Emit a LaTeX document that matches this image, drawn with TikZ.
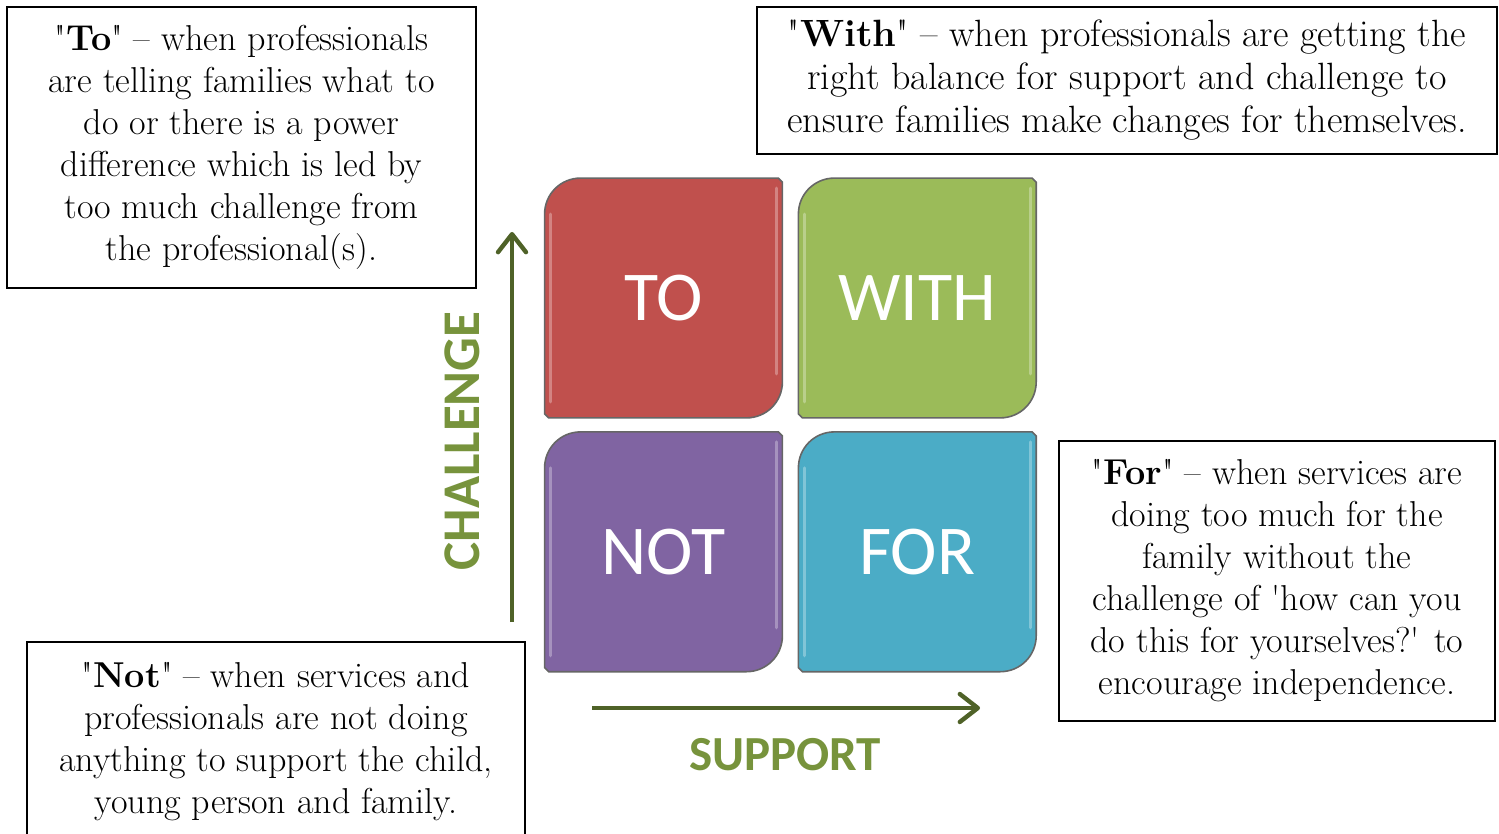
\documentclass[tikz,border=0pt]{standalone}
\usepackage{fontspec}
\setsansfont{Carlito}
\usetikzlibrary{positioning}
\usetikzlibrary{calc}
\usetikzlibrary{arrows.meta}
\pgfdeclarelayer{background}
\pgfsetlayers{background,main}
\definecolor{tored}{HTML}{C0504D}
\definecolor{withgreen}{HTML}{9BBB59}
\definecolor{notpurple}{HTML}{8064A2}
\definecolor{foraqua}{HTML}{4BACC6}
\definecolor{axisgreen}{HTML}{4F6228}
\definecolor{labelgreen}{HTML}{77933C}

\begin{document}
\begin{tikzpicture}[x=0.5pt,y=-0.5pt]
			\tikzset{textbox/.style = {shape=rectangle, draw, line width=1pt, inner sep=0pt, align=center, font=\fontsize{18}{21}\selectfont},
				quad/.style = {shape=rectangle, inner sep=0pt, minimum width=118.5pt, minimum height=119.5pt, text=white, font=\sffamily\fontsize{35}{42}\selectfont},
				quadedge/.style = {draw=black!60, line width=0.8pt},
				shine/.style = {white, opacity=0.3, line width=1.6pt, line cap=round},
				axis/.style = {-{Straight Barb[length=9pt,width=14pt,line width=2.2pt,round]}, draw=axisgreen, line width=2.4pt},
				axislabel/.style = {text=labelgreen, font=\sffamily\bfseries\fontsize{26.5}{30}\selectfont}}
			
			\useasboundingbox (0,0) rectangle (1499,834);
			
			% the four quadrants
			\node[quad] (TO) at (663.5,298) {TO};
			\node[quad, right=8pt of TO] (WITH) {WITH};
			\node[quad, below=7pt of TO] (NOT) {NOT};
			\node[quad, right=8pt of NOT] (FOR) {FOR};
			
			\begin{pgfonlayer}{background}
				\draw[quadedge, fill=tored] ([yshift=-18pt]TO.north west) .. controls ([yshift=-8pt]TO.north west) and ([xshift=8pt]TO.north west) .. ([xshift=18pt]TO.north west) -- ([xshift=-2pt]TO.north east) -- ([yshift=-2pt]TO.north east) -- ([yshift=18pt]TO.south east) .. controls ([yshift=8pt]TO.south east) and ([xshift=-8pt]TO.south east) .. ([xshift=-18pt]TO.south east) -- ([xshift=2pt]TO.south west) -- ([yshift=2pt]TO.south west) -- cycle;
				\draw[quadedge, fill=withgreen] ([yshift=-18pt]WITH.north west) .. controls ([yshift=-8pt]WITH.north west) and ([xshift=8pt]WITH.north west) .. ([xshift=18pt]WITH.north west) -- ([xshift=-2pt]WITH.north east) -- ([yshift=-2pt]WITH.north east) -- ([yshift=18pt]WITH.south east) .. controls ([yshift=8pt]WITH.south east) and ([xshift=-8pt]WITH.south east) .. ([xshift=-18pt]WITH.south east) -- ([xshift=2pt]WITH.south west) -- ([yshift=2pt]WITH.south west) -- cycle;
				\draw[quadedge, fill=notpurple] ([yshift=-18pt]NOT.north west) .. controls ([yshift=-8pt]NOT.north west) and ([xshift=8pt]NOT.north west) .. ([xshift=18pt]NOT.north west) -- ([xshift=-2pt]NOT.north east) -- ([yshift=-2pt]NOT.north east) -- ([yshift=18pt]NOT.south east) .. controls ([yshift=8pt]NOT.south east) and ([xshift=-8pt]NOT.south east) .. ([xshift=-18pt]NOT.south east) -- ([xshift=2pt]NOT.south west) -- ([yshift=2pt]NOT.south west) -- cycle;
				\draw[quadedge, fill=foraqua] ([yshift=-18pt]FOR.north west) .. controls ([yshift=-8pt]FOR.north west) and ([xshift=8pt]FOR.north west) .. ([xshift=18pt]FOR.north west) -- ([xshift=-2pt]FOR.north east) -- ([yshift=-2pt]FOR.north east) -- ([yshift=18pt]FOR.south east) .. controls ([yshift=8pt]FOR.south east) and ([xshift=-8pt]FOR.south east) .. ([xshift=-18pt]FOR.south east) -- ([xshift=2pt]FOR.south west) -- ([yshift=2pt]FOR.south west) -- cycle;
				% glossy edges
				\draw[shine] ([xshift=3pt,yshift=-18pt]TO.north west) -- ([xshift=3pt,yshift=8pt]TO.south west);
				\draw[shine] ([xshift=-3pt,yshift=-5pt]TO.north east) -- ([xshift=-3pt,yshift=22pt]TO.south east);
				\draw[shine] ([xshift=3pt,yshift=-18pt]WITH.north west) -- ([xshift=3pt,yshift=8pt]WITH.south west);
				\draw[shine] ([xshift=-3pt,yshift=-5pt]WITH.north east) -- ([xshift=-3pt,yshift=22pt]WITH.south east);
				\draw[shine] ([xshift=3pt,yshift=-18pt]NOT.north west) -- ([xshift=3pt,yshift=8pt]NOT.south west);
				\draw[shine] ([xshift=-3pt,yshift=-5pt]NOT.north east) -- ([xshift=-3pt,yshift=22pt]NOT.south east);
				\draw[shine] ([xshift=3pt,yshift=-18pt]FOR.north west) -- ([xshift=3pt,yshift=8pt]FOR.south west);
				\draw[shine] ([xshift=-3pt,yshift=-5pt]FOR.north east) -- ([xshift=-3pt,yshift=22pt]FOR.south east);
			\end{pgfonlayer}
			
			% axes
			\coordinate (chfoot) at (512,622);
			\coordinate (chhead) at (512,232);
			\draw[axis] (chfoot) -- (chhead);
			\node[axislabel, rotate=90] (CHALLENGE) at (462,441) {CHALLENGE};
			\coordinate (supfoot) at (592,708);
			\coordinate (suphead) at (980,708);
			\draw[axis] (supfoot) -- (suphead);
			\node[axislabel, font=\sffamily\bfseries\fontsize{24.5}{30}\selectfont] (SUPPORT) at (785,755) {SUPPORT};
			
			% explanations
			\node[textbox, minimum width=234.5pt, minimum height=140.5pt] (tobox) at (241.5,147.5)
			{\textquotedbl\textbf{To}\textquotedbl{} – when professionals\\
				are telling families what to\\
				do or there is a power\\
				difference which is led by\\
				too much challenge from\\
				the professional(s).};
			
			\node[textbox, minimum width=370pt, minimum height=73.5pt, font=\fontsize{19}{21.5}\selectfont] (withbox) at (1127,80.5)
			{\textquotedbl\textbf{With}\textquotedbl{} – when professionals are getting the\\
				right balance for support and challenge to\\
				ensure families make changes for themselves.};
			
			\node[textbox, minimum width=218pt, minimum height=140pt] (forbox) at (1277,581)
			{\textquotedbl\textbf{For}\textquotedbl{} – when services are\\
				doing too much for the\\
				family without the\\
				challenge of \textquotesingle how can you\\
				do this for yourselves?\textquotesingle{} to\\
				encourage independence.};
			
			\node[textbox, minimum width=249pt, minimum height=100pt] (notbox) at (276,742)
			{\textquotedbl\textbf{Not}\textquotedbl{} – when services and\\
				professionals are not doing\\
				anything to support the child,\\
				young person and family.};
			
\end{tikzpicture}
\end{document}
